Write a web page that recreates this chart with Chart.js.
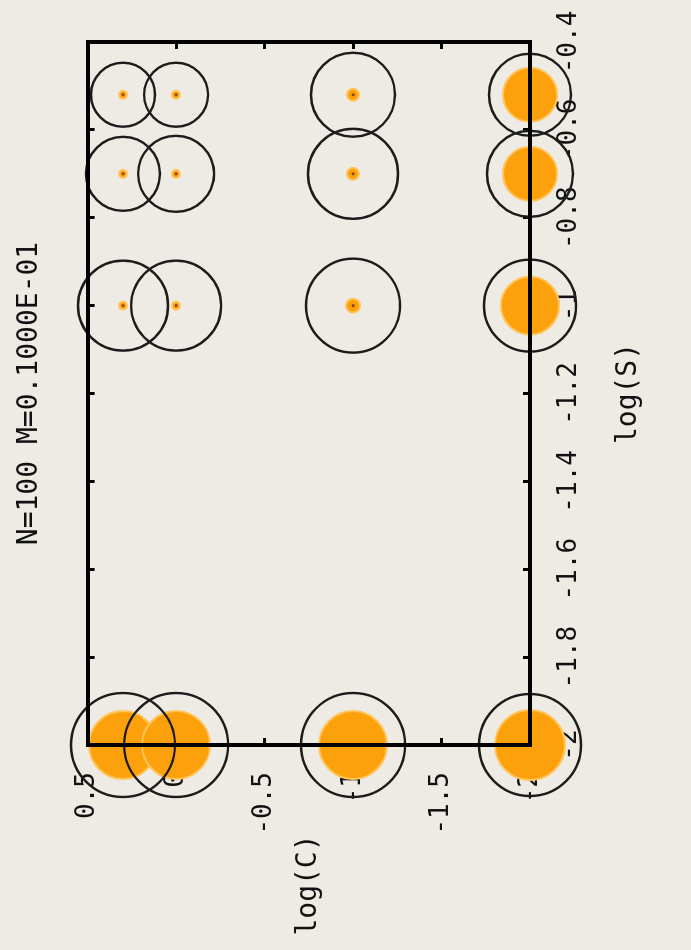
<!DOCTYPE html>
<html lang="en">
<head>
  <meta charset="UTF-8" />
  <title>N=100 M=0.1000E-01</title>
  <script src="https://cdn.jsdelivr.net/npm/chart.js"></script>
  <style>
    html, body { margin: 0; padding: 0; width: 691px; height: 950px; overflow: hidden; background: #eeebe4; }
    /* chart is drawn upright, then turned a quarter turn like the reference */
    #wrap { position: absolute; left: 0; top: 0; width: 950px; height: 691px;
            transform-origin: 0 0; transform: translate(0, 950px) rotate(-90deg); }
  </style>
</head>
<body>
  <div id="wrap"><canvas id="chart" width="950" height="691"></canvas></div>

  <script>
    // log(S) columns and log(C) rows of the grid
    const sVals = [-2, -1, -0.7, -0.52];
    const cVals = [0.3, 0, -1, -2];

    // outer black circles, one row per cVals entry (px)
    const ringR = [
      [52, 45, 37, 32],
      [52, 45, 38, 32],
      [52, 47, 45, 42],
      [51, 46, 43, 41]
    ];
    // orange disks (px)
    const diskR = [
      [34, 4, 4, 4],
      [34, 4, 4, 4],
      [34, 7, 6, 6],
      [35, 29, 27, 27]
    ];

    const sTicks = [-2, -1.8, -1.6, -1.4, -1.2, -1, -0.8, -0.6, -0.4];
    const sTickLabels = ['-2', '-1.8', '-1.6', '-1.4', '-1.2', '-1', '-0.8', '-0.6', '-0.4'];
    const cTicks = [-2, -1.5, -1, -0.5, 0, 0.5];
    const cTickLabels = ['-2', '-1.5', '-1', '-0.5', '0', '0.5'];

    const FONT = 'DejaVu Sans Mono';

    const rings = [], disks = [], dots = [];
    cVals.forEach((c, i) => {
      sVals.forEach((s, j) => {
        rings.push({ x: s, y: c, r: ringR[i][j] });
        disks.push({ x: s, y: c, r: diskR[i][j] });
        if (diskR[i][j] < 10) dots.push({ x: s, y: c, r: 1.6 });
      });
    });

    function tickMarks() {
      return { drawOnChartArea: false, drawTicks: true, tickLength: -7, tickWidth: 3, tickColor: '#000', color: '#000' };
    }
    const border = { display: true, color: '#000', width: 4, z: 1 };

    // horizontal y-axis title, as in the reference
    const yTitle = {
      id: 'yTitle',
      afterDraw(chart) {
        const { ctx, chartArea } = chart;
        ctx.save();
        ctx.font = '28px "' + FONT + '"';
        ctx.fillStyle = '#111';
        ctx.textAlign = 'center';
        ctx.textBaseline = 'middle';
        ctx.fillText('log(C)', 65, (chartArea.top + chartArea.bottom) / 2);
        ctx.restore();
      }
    };

    new Chart(document.getElementById('chart'), {
      type: 'bubble',
      data: {
        datasets: [
          { data: dots, backgroundColor: '#8a4a00', borderWidth: 0, clip: false },
          { data: rings, backgroundColor: 'rgba(0,0,0,0)', borderColor: '#1c1c1c', borderWidth: 2.4, clip: false },
          { data: disks, backgroundColor: '#fca10c', borderColor: '#ffc45a', borderWidth: 2, clip: false }
        ]
      },
      options: {
        responsive: false,
        animation: false,
        devicePixelRatio: 1,
        layout: { autoPadding: false, padding: { left: 0, right: 42, top: 0, bottom: 0 } },
        plugins: {
          legend: { display: false },
          tooltip: { enabled: false },
          title: {
            display: true,
            text: 'N=100 M=0.1000E-01',
            fullSize: false,
            color: '#111',
            font: { family: FONT, size: 28, weight: 'normal' },
            padding: { top: 13, bottom: 41 }
          }
        },
        scales: {
          x: {
            type: 'linear', position: 'bottom', min: -2, max: -0.4,
            afterBuildTicks: s => { s.ticks = sTicks.map(v => ({ value: v })); },
            afterFit: s => { s.height = 161; s.paddingLeft = 0; s.paddingRight = 0; },
            grid: tickMarks(), border,
            ticks: { autoSkip: false, maxRotation: 0, padding: 31, color: '#111',
                     font: { family: FONT, size: 26 }, callback: (v, i) => sTickLabels[i] },
            title: { display: true, text: 'log(S)', color: '#111',
                     font: { family: FONT, size: 28 }, padding: { top: 0, bottom: 45 } }
          },
          x2: {
            type: 'linear', position: 'top', min: -2, max: -0.4,
            afterBuildTicks: s => { s.ticks = sTicks.map(v => ({ value: v })); },
            afterFit: s => { s.height = 0; s.paddingLeft = 0; s.paddingRight = 0; },
            grid: tickMarks(), border,
            ticks: { display: false }
          },
          y: {
            type: 'linear', position: 'left', min: -2, max: 0.5,
            afterBuildTicks: s => { s.ticks = cTicks.map(v => ({ value: v })); },
            afterFit: s => { s.width = 205; },
            grid: tickMarks(), border,
            ticks: { autoSkip: false, padding: 34, color: '#111',
                     font: { family: FONT, size: 26 }, callback: (v, i) => cTickLabels[i] }
          },
          y2: {
            type: 'linear', position: 'right', min: -2, max: 0.5,
            afterBuildTicks: s => { s.ticks = cTicks.map(v => ({ value: v })); },
            afterFit: s => { s.width = 0; },
            grid: tickMarks(), border,
            ticks: { display: false }
          }
        }
      },
      plugins: [yTitle]
    });
  </script>
</body>
</html>
